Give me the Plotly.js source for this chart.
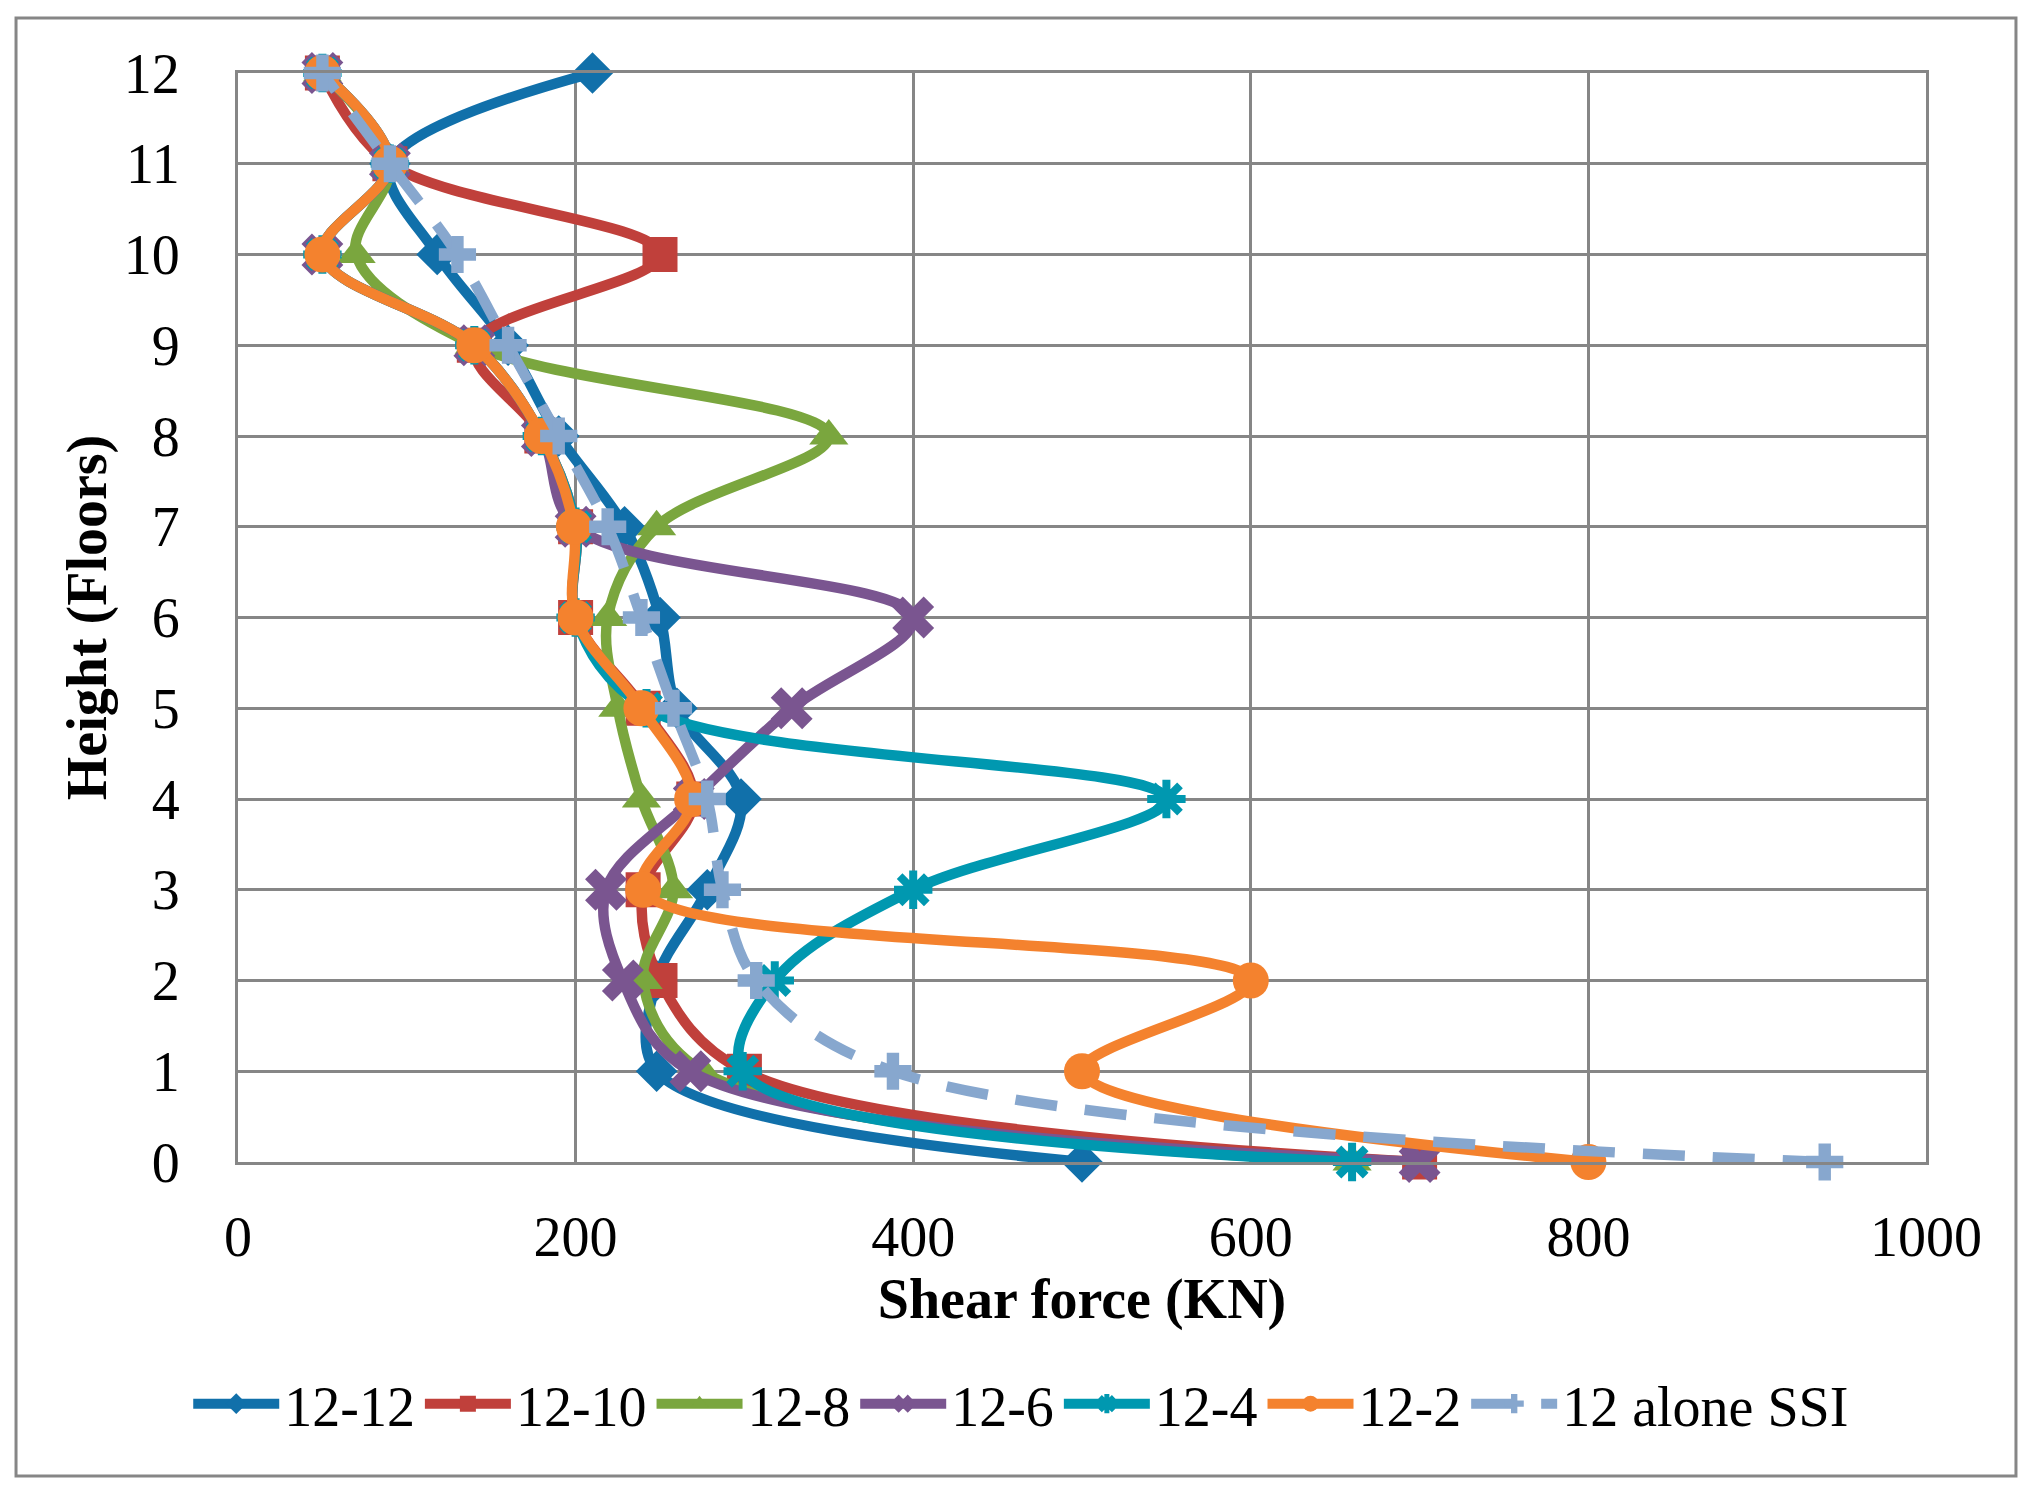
<!DOCTYPE html>
<html>
<head>
<meta charset="utf-8">
<script src="https://cdn.plot.ly/plotly-3.0.1.min.js"></script>
<style>
  html, body { margin: 0; padding: 0; background: #ffffff; }
  #chart { width: 2033px; height: 1489px; }
</style>
</head>
<body>
<div id="chart"></div>
<script>
// floors 0..12, shear force (KN)
var floors = [0, 1, 2, 3, 4, 5, 6, 7, 8, 9, 10, 11, 12]

var s12_12 = [500, 248, 248, 278, 298, 260, 250, 229, 190, 160, 118, 90, 210]
var s12_10 = [700, 300, 250, 240, 270, 240, 200, 200, 180, 140, 250, 90, 50]
var s12_8  = [660, 275, 240, 258, 239, 225, 219, 248, 350, 140, 70, 90, 50]
var s12_6  = [700, 268, 228, 218, 270, 328, 400, 200, 180, 140, 50, 90, 50]
var s12_4  = [660, 299, 318, 400, 550, 242, 200, 200, 180, 140, 50, 90, 50]
var s12_2  = [800, 500, 600, 240, 269, 239, 200, 199, 180, 140, 50, 90, 50]
var sAlone = [940, 388, 307, 287, 278, 258, 239, 219, 190, 160, 130, 90, 50]

var xTicks = [0, 200, 400, 600, 800, 1000]
var yTicks = floors

var fontName = 'Liberation Serif, Times New Roman, serif'
var gridColor = '#868686'

function series(name, values, color, symbol, size, dash){
  var open = symbol.indexOf('open') >= 0
  return {
    name: name,
    x: values,
    y: floors,
    type: 'scatter',
    mode: 'lines+markers',
    cliponaxis: false,
    line: {color: color, width: 10.5, shape: 'spline', smoothing: 1, dash: dash || 'solid'},
    marker: {
      symbol: symbol,
      size: size,
      color: color,
      line: {color: color, width: open ? 8 : 0}
    },
    hoverinfo: 'skip'
  }
}

var traces = [
  series('12-12', s12_12, '#1170AA', 'diamond', 32),
  series('12-10', s12_10, '#C0403B', 'square', 35),
  series('12-8', s12_8, '#7AA63E', 'triangle-up', 34),
  series('12-6', s12_6, '#7A5590', 'x', 37),
  series('12-4', s12_4, '#0098B0', 'asterisk-open', 32),
  series('12-2', s12_2, '#F4822E', 'circle', 36),
  series('12 alone SSI', sAlone, '#87A7CE', 'cross', 31, '42px,28px')
]

var layout = {
  width: 2033,
  height: 1489,
  margin: {l: 238, r: 107, t: 73, b: 327, pad: 0},
  paper_bgcolor: '#ffffff',
  plot_bgcolor: '#ffffff',
  font: {family: fontName, size: 56, color: '#000000'},
  showlegend: true,
  hovermode: false,
  xaxis: {
    range: [0, 1000],
    tickvals: xTicks,
    ticks: '',
    ticklabelstandoff: 24,
    tickfont: {family: fontName, size: 56},
    showgrid: true,
    gridcolor: gridColor,
    gridwidth: 3,
    zeroline: false,
    showline: true,
    linecolor: gridColor,
    linewidth: 3,
    mirror: true,
    fixedrange: true,
    title: {text: 'Shear force (KN)', font: {family: fontName, size: 56, weight: 'bold'}, standoff: 12}
  },
  yaxis: {
    range: [0, 12],
    tickvals: yTicks,
    ticks: '',
    ticklabelstandoff: 44,
    tickfont: {family: fontName, size: 56},
    showgrid: true,
    gridcolor: gridColor,
    gridwidth: 3,
    zeroline: false,
    showline: true,
    linecolor: gridColor,
    linewidth: 3,
    mirror: true,
    fixedrange: true,
    title: {text: 'Height (Floors)', font: {family: fontName, size: 56, weight: 'bold'}, standoff: 0}
  },
  legend: {
    orientation: 'h',
    x: 0.464,
    xanchor: 'center',
    y: -0.222,
    yanchor: 'middle',
    font: {family: fontName, size: 56},
    itemwidth: 86,
    tracegroupgap: 0,
    bgcolor: 'rgba(0,0,0,0)'
  },
  shapes: [{
    type: 'rect',
    xref: 'paper', yref: 'paper',
    x0: -0.1315, x1: 1.0533, y0: -0.2883, y1: 1.0505,
    line: {color: gridColor, width: 3},
    fillcolor: 'rgba(0,0,0,0)',
    layer: 'below'
  }]
}

Plotly.newPlot('chart', traces, layout, {displayModeBar: false, staticPlot: true})
</script>
</body>
</html>
